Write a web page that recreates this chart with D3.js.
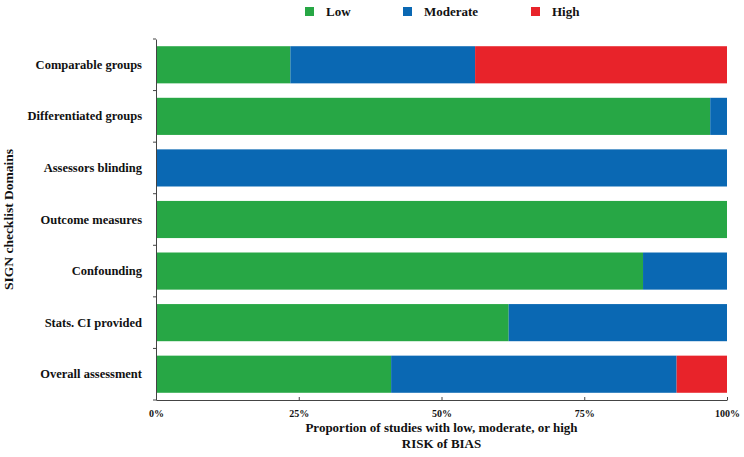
<!DOCTYPE html>
<html>
<head>
<meta charset="utf-8">
<script src="https://cdn.jsdelivr.net/npm/d3@7"></script>
<style>
  body { margin: 0; background: #fff; }
  text { font-family: "Liberation Serif", "Times New Roman", serif; font-weight: bold; fill: #111; }
</style>
</head>
<body>
<svg id="chart" width="744" height="457"></svg>
<script>
// Domains, top to bottom
const domains = ["Comparable groups", "Differentiated groups", "Assessors blinding",
  "Outcome measures", "Confounding", "Stats. CI provided", "Overall assessment"];
// number of studies (out of 34) per risk level
const lowCounts      = [8, 33, 0, 34, 29, 21, 14];
const moderateCounts = [11, 1, 34, 0, 5, 13, 17];
const highCounts     = [15, 0, 0, 0, 0, 0, 3];
const levels = ["Low", "Moderate", "High"];
const levelColors = ["#27a745", "#0a68b3", "#e8232a"];
const tickValues = [0, 0.25, 0.5, 0.75, 1];

const svg = d3.select("#chart");
const margin = { top: 39, right: 17, bottom: 57, left: 156 };
const width = 744 - margin.left - margin.right;
const height = 457 - margin.top - margin.bottom;

// Build proportion rows for stacking
const rows = domains.map((d, i) => {
    const total = lowCounts[i] + moderateCounts[i] + highCounts[i];
    return {
        domain: d,
        Low: lowCounts[i] / total,
        Moderate: moderateCounts[i] / total,
        High: highCounts[i] / total
    };
});
const series = d3.stack().keys(levels)(rows);

const x = d3.scaleLinear().domain([0, 1]).range([0, width]);
const y = d3.scaleBand().domain(domains).range([0, height]).paddingInner(0.28).paddingOuter(0.14);
const color = d3.scaleOrdinal().domain(levels).range(levelColors);

const g = svg.append("g").attr("transform", `translate(${margin.left},${margin.top})`);

// Bars
g.selectAll(".layer")
    .data(series)
    .enter().append("g")
    .attr("class", "layer")
    .attr("fill", d => color(d.key))
    .selectAll("rect")
    .data(d => d)
    .enter().append("rect")
    .attr("x", d => x(d[0]))
    .attr("y", d => y(d.data.domain))
    .attr("width", d => x(d[1]) - x(d[0]))
    .attr("height", y.bandwidth());

// X axis
const xAxis = g.append("g")
    .attr("transform", `translate(0,${height})`)
    .call(d3.axisBottom(x).tickValues(tickValues).tickFormat(d3.format(".0%")).tickSizeInner(-3).tickSizeOuter(0).tickPadding(10));
xAxis.select(".domain").attr("stroke", "#444");
xAxis.selectAll(".tick line").attr("stroke", "#444");
xAxis.selectAll("text").attr("font-size", 10).attr("fill", "#111");

// Y axis: ticks between bands
const yAxis = g.append("g").call(d3.axisLeft(y).tickSize(0).tickPadding(14));
yAxis.select(".domain").attr("stroke", "#444");
yAxis.selectAll("text").attr("font-size", 12.5).attr("fill", "#111");
const step = y.step();
const boundaries = d3.range(domains.length).map(i => y(domains[i]) - y.paddingInner() * step / 2);
g.selectAll(".ytick-sep")
    .data(boundaries.concat([height - y.paddingOuter() * step + y.paddingInner() * step / 2]))
    .enter().append("line")
    .attr("class", "ytick-sep")
    .attr("x1", -3).attr("x2", 0)
    .attr("y1", d => d).attr("y2", d => d)
    .attr("stroke", "#444");

// Axis titles
svg.append("text")
    .attr("x", margin.left + width / 2)
    .attr("y", 432)
    .attr("text-anchor", "middle")
    .attr("font-size", 13)
    .text("Proportion of studies with low, moderate, or high");
svg.append("text")
    .attr("x", margin.left + width / 2)
    .attr("y", 448)
    .attr("text-anchor", "middle")
    .attr("font-size", 13)
    .text("RISK of BIAS");
svg.append("text")
    .attr("transform", `translate(13,${margin.top + height / 2}) rotate(-90)`)
    .attr("text-anchor", "middle")
    .attr("font-size", 13.5)
    .text("SIGN checklist Domains");

// Legend
const legendX = [305, 403, 531];
const legend = svg.selectAll(".legend")
    .data(levels)
    .enter().append("g")
    .attr("class", "legend")
    .attr("transform", (d, i) => `translate(${legendX[i]},7)`);
legend.append("rect")
    .attr("width", 9).attr("height", 9)
    .attr("fill", d => color(d));
legend.append("text")
    .attr("x", 21).attr("y", 9)
    .attr("font-size", 13)
    .text(d => d);
</script>
</body>
</html>
